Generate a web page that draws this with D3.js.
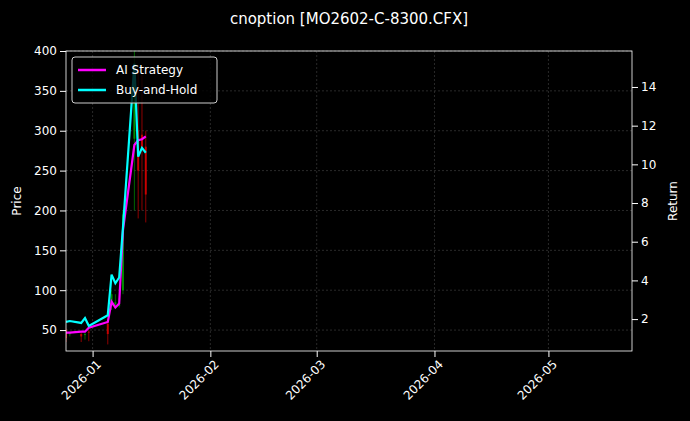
<!DOCTYPE html><html><head><meta charset="utf-8"><script src="https://cdn.jsdelivr.net/npm/d3@7"></script>
<style>body{margin:0;background:#000}svg text{font-family:"DejaVu Sans";fill:#fff}</style></head><body>
<script>
const dates=["2025-12-25","2025-12-26","2025-12-29","2025-12-30","2025-12-31","2026-01-05","2026-01-06","2026-01-07","2026-01-08","2026-01-09","2026-01-12","2026-01-13","2026-01-14","2026-01-15"];
const aiReturn=[1.3,1.3,1.35,1.35,1.55,1.85,2.9,2.6,2.8,6.6,11.0,11.25,11.3,11.45];
const bhReturn=[1.85,1.9,1.8,2.05,1.65,2.2,4.3,3.85,4.15,6.75,15.2,10.4,10.85,10.6];
const open=[50,45,45,44,48,58,80,82,80,100,290,300,295,280];
const high=[52,48,48,47,50,60,100,95,90,200,400,380,370,300];
const low=[35,42,35,38,36,32,75,78,78,95,200,190,200,185];
const close=[40,46,42,45,47,45,95,85,82,195,375,250,280,220];
const xTicks=["2026-01-01","2026-02-01","2026-03-01","2026-04-01","2026-05-01"];
const priceTicks=[50,100,150,200,250,300,350,400];
const retTicks=[2,4,6,8,10,12,14];
const W=690,H=421,L=66,R=632,T=51,B=351;
const p=d3.timeParse("%Y-%m-%d");
const svg=d3.select("body").append("svg").attr("width",W).attr("height",H).style("background","#000");
const x=d3.scaleTime().domain([p("2025-12-25"),p("2026-05-23")]).range([L,R]);
const y=d3.scaleLinear().domain([23.75,400]).range([B,T]);
const y2=d3.scaleLinear().domain([0.35,15.86]).range([B,T]);
const g=svg.append("g");
xTicks.forEach(t=>g.append("line").attr("x1",x(p(t))).attr("x2",x(p(t))).attr("y1",T).attr("y2",B).attr("stroke","#444").attr("stroke-dasharray","2,2").attr("stroke-width",0.6));
priceTicks.forEach(t=>g.append("line").attr("x1",L).attr("x2",R).attr("y1",y(t)).attr("y2",y(t)).attr("stroke","#444").attr("stroke-dasharray","2,2").attr("stroke-width",0.6));
svg.append("clipPath").attr("id","c").append("rect").attr("x",L).attr("y",T).attr("width",R-L).attr("height",B-T);
const pg=svg.append("g").attr("clip-path","url(#c)");
dates.forEach((d,i)=>{const col=close[i]>=open[i]?"#00a000":"#e00000";const cx=x(p(d));
pg.append("line").attr("x1",cx).attr("x2",cx).attr("y1",y(high[i])).attr("y2",y(low[i])).attr("stroke",col).attr("stroke-width",0.8).attr("opacity",0.8);
pg.append("rect").attr("x",cx-1).attr("width",2).attr("y",y(Math.max(open[i],close[i]))).attr("height",Math.max(1,Math.abs(y(open[i])-y(close[i])))).attr("fill",col).attr("opacity",0.8);});
const ln=arr=>d3.line().x((d,i)=>x(p(dates[i]))).y(d=>y2(d))(arr);
pg.append("path").attr("d",ln(aiReturn)).attr("fill","none").attr("stroke","#ff00ff").attr("stroke-width",2.2);
pg.append("path").attr("d",ln(bhReturn)).attr("fill","none").attr("stroke","#00ffff").attr("stroke-width",2.2);
svg.append("rect").attr("x",L).attr("y",T).attr("width",R-L).attr("height",B-T).attr("fill","none").attr("stroke","#fff").attr("stroke-width",0.8);
const ax=svg.append("g").attr("transform",`translate(0,${B})`).call(d3.axisBottom(x).tickValues(xTicks.map(p)).tickFormat(d3.timeFormat("%Y-%m")).tickSizeOuter(0));
ax.selectAll("text").attr("transform","rotate(-45)").attr("text-anchor","end").attr("dx","-0.3em").attr("dy","0.6em");
const ay=svg.append("g").attr("transform",`translate(${L},0)`).call(d3.axisLeft(y).tickValues(priceTicks).tickSizeOuter(0));
const ay2=svg.append("g").attr("transform",`translate(${R},0)`).call(d3.axisRight(y2).tickValues(retTicks).tickSizeOuter(0));
[ax,ay,ay2].forEach(a=>{a.select(".domain").remove();a.selectAll("line").attr("stroke","#fff");a.selectAll("text").style("font-size","12px").attr("fill","#fff");});
svg.append("text").attr("x",349).attr("y",24).attr("text-anchor","middle").style("font-size","15px").text("cnoption [MO2602-C-8300.CFX]");
svg.append("text").attr("transform","translate(21,201) rotate(-90)").attr("text-anchor","middle").style("font-size","12px").text("Price");
svg.append("text").attr("transform","translate(677,201) rotate(-90)").attr("text-anchor","middle").style("font-size","12px").text("Return");
const lg=svg.append("g");
lg.append("rect").attr("x",72).attr("y",57).attr("width",145).attr("height",46).attr("rx",3).attr("fill","#000").attr("fill-opacity",0.8).attr("stroke","#ccc");
[["AI Strategy","#ff00ff"],["Buy-and-Hold","#00ffff"]].forEach(([t,c],i)=>{lg.append("line").attr("x1",78).attr("x2",106).attr("y1",70+i*20).attr("y2",70+i*20).attr("stroke",c).attr("stroke-width",2.5);
lg.append("text").attr("x",116).attr("y",74+i*20).style("font-size","12px").text(t);});
</script></body></html>
